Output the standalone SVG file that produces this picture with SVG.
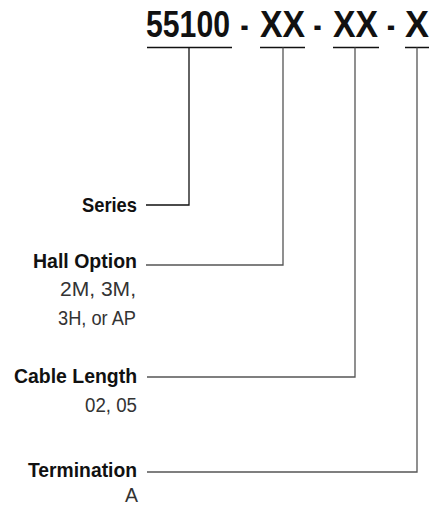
<svg xmlns="http://www.w3.org/2000/svg" width="431" height="506" viewBox="0 0 431 506">
<style>
.t{font-family:"Liberation Sans",Arial,sans-serif;font-weight:bold;font-size:37px;fill:#111}
.l{font-family:"Liberation Sans",Arial,sans-serif;font-weight:bold;font-size:21px;fill:#111;text-anchor:end}
.v{font-family:"Liberation Sans",Arial,sans-serif;font-size:20.5px;fill:#333;text-anchor:end}
.u{stroke:#111;stroke-width:1.3;fill:none}
.c{stroke:#555;stroke-width:1.3;fill:none}
.cs{stroke:#111;stroke-width:1.3;fill:none}
</style>
<g id="code">
<text class="t" y="37"><tspan x="146" textLength="84" lengthAdjust="spacingAndGlyphs">55100</tspan><tspan x="240.5" textLength="8" lengthAdjust="spacingAndGlyphs">-</tspan><tspan x="260" textLength="45" lengthAdjust="spacingAndGlyphs">XX</tspan><tspan x="313.5" textLength="8" lengthAdjust="spacingAndGlyphs">-</tspan><tspan x="333" textLength="45" lengthAdjust="spacingAndGlyphs">XX</tspan><tspan x="387" textLength="8" lengthAdjust="spacingAndGlyphs">-</tspan><tspan x="405" textLength="24" lengthAdjust="spacingAndGlyphs">X</tspan></text>
<path class="u" d="M147 47.5H232M260 47.5H305M333 47.5H379M405 47.5H429"/>
</g>
<g id="connectors">
<path class="cs" d="M189 47.5V205H146"/>
<path class="c" d="M283 47.5V265H146"/>
<path class="c" d="M355 47.5V377H147"/>
<path class="c" d="M417 47.5V472H147"/>
</g>
<g id="series">
<text class="l" x="137" y="212" textLength="55" lengthAdjust="spacingAndGlyphs">Series</text>
</g>
<g id="hall">
<text class="l" x="137" y="268" textLength="104" lengthAdjust="spacingAndGlyphs">Hall Option</text>
<text class="v" x="136" y="296" textLength="76" lengthAdjust="spacingAndGlyphs">2M, 3M,</text>
<text class="v" x="136" y="325" textLength="78" lengthAdjust="spacingAndGlyphs">3H, or AP</text>
</g>
<g id="cable">
<text class="l" x="137" y="383" textLength="123" lengthAdjust="spacingAndGlyphs">Cable Length</text>
<text class="v" x="137" y="412" textLength="52" lengthAdjust="spacingAndGlyphs">02, 05</text>
</g>
<g id="termination">
<text class="l" x="137" y="477" textLength="109" lengthAdjust="spacingAndGlyphs">Termination</text>
<text class="v" x="138" y="502" textLength="13" lengthAdjust="spacingAndGlyphs">A</text>
</g>
</svg>
